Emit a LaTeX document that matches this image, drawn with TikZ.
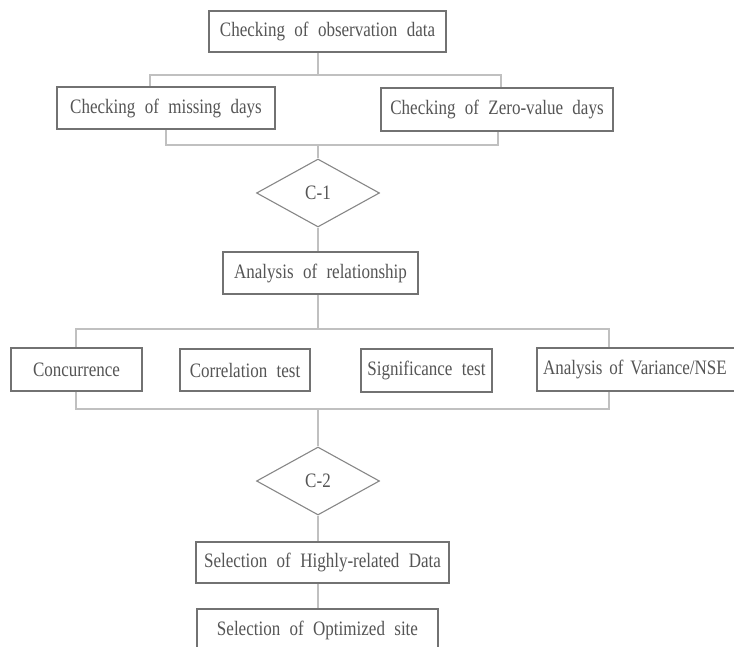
\documentclass[tikz,border=0pt]{standalone}
\usepackage{fontspec}
\setmainfont{Liberation Serif}[FakeStretch=0.83,WordSpace=2.2]
\usetikzlibrary{shapes.geometric,backgrounds}
\definecolor{txtc}{HTML}{555555}
\definecolor{boxc}{HTML}{727272}
\definecolor{linec}{HTML}{C0C0C0}
\tikzset{
  box/.style={draw=boxc, line width=1.2pt, fill=white, inner sep=0pt, text=txtc,
    font=\fontsize{20.5}{24}\selectfont, minimum width=#1},
  dec/.style={draw=boxc!85, line width=1.1pt, fill=white, diamond, aspect=1.81,
    inner sep=0pt, minimum width=123pt, minimum height=68pt, text=txtc,
    font=\fontsize{20.5}{24}\selectfont},
  conn/.style={draw=linec, line width=1.1pt}
}
\begin{document}
\begin{tikzpicture}[x=1pt,y=-1pt]
\useasboundingbox (0,0) rectangle (734,647);
\node[box=237pt, minimum height=41pt] (top) at (327.5,31.5) {Checking of observation data};
\node[box=218pt, minimum height=42pt] (miss) at (166,108) {Checking of missing days};
\node[box=232pt, minimum height=43pt] (zero) at (497,109.5) {Checking of Zero-value days};
\node[dec] (c1) at (318,193) {C-1};
\node[box=195pt, minimum height=42pt] (rel) at (320.5,273) {Analysis of relationship};
\node[box=131pt, minimum height=43pt] (conc) at (76.5,369.5) {Concurrence};
\node[box=130pt, minimum height=42pt] (corr) at (245,370) {Correlation test};
\node[box=131pt, minimum height=43pt] (sig) at (426.5,370.5) {Significance test};
\node[box=223pt, minimum height=43pt, text width=211pt, align=left, inner xsep=6pt] (anova) at (648.5,369.5) {Analysis of Variance/NSE};
\node[dec] (c2) at (318,481) {C-2};
\node[box=253pt, minimum height=41pt] (high) at (322.5,562.5) {Selection of Highly-related Data};
\node[box=241pt, minimum height=42pt] (opt) at (317.5,630) {Selection of Optimized site};
\coordinate (a1) at (318,75);
\coordinate (tl) at (150,75);
\coordinate (tr) at (501,75);
\coordinate (bl) at (166,145);
\coordinate (br) at (498,145);
\coordinate (b1) at (318,145);
\coordinate (r1) at (318,329);
\coordinate (rl) at (76,329);
\coordinate (rr) at (609,409);
\coordinate (r2) at (318,409);
\begin{pgfonlayer}{background}
\draw[conn] (top.south -| a1) -- (a1);
\draw[conn] (tl |- miss.north) -- (tl) -- (tr) -- (tr |- zero.north);
\draw[conn] (bl |- miss.south) -- (bl) -- (br) -- (br |- zero.south);
\draw[conn] (b1) -- (c1.north);
\draw[conn] (c1.south) -- (c1.south |- rel.north);
\draw[conn] (rel.south -| r1) -- (r1);
\draw[conn] (rl) rectangle (rr);
\draw[conn] (r2) -- (c2.north);
\draw[conn] (c2.south) -- (c2.south |- high.north);
\draw[conn] (high.south -| c2.south) -- (c2.south |- opt.north);
\end{pgfonlayer}
\end{tikzpicture}
\end{document}
